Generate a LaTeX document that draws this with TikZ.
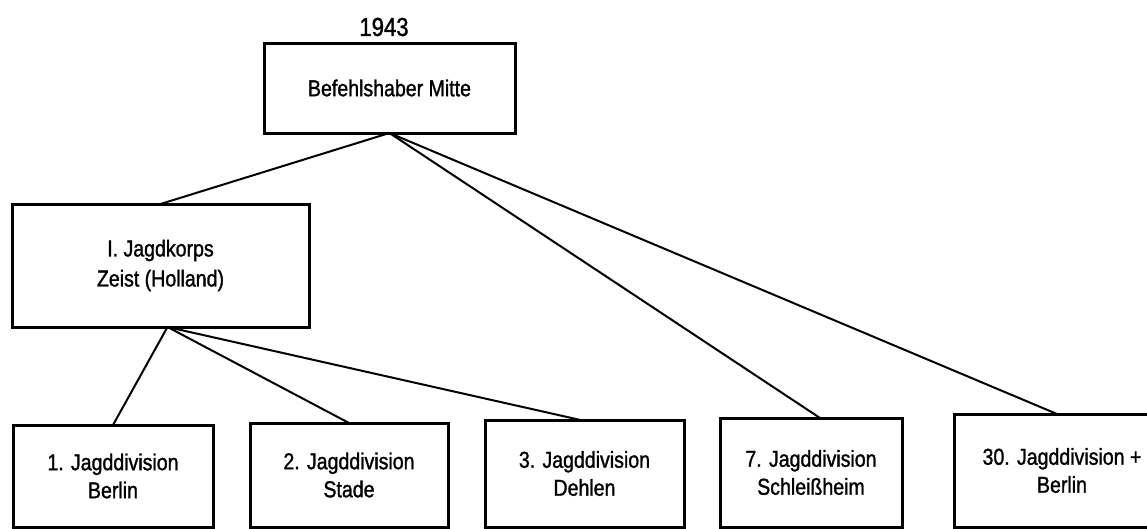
\documentclass[tikz,border=0pt]{standalone}
\usepackage{fontspec}
\setmainfont{Liberation Sans}[FakeStretch=0.85,FakeBold=1.3]

\begin{document}
\begin{tikzpicture}[x=1pt,y=-1pt,
   unit/.style={draw,line width=3pt,inner sep=0pt,outer sep=0pt,align=center,
     font=\fontsize{23}{28}\selectfont},
   link/.style={line width=2pt}]
   \useasboundingbox (0,0) rectangle (1147,528);
   \clip (0,0) rectangle (1147,528);
   \node[font=\fontsize{26}{30}\selectfont] (year) at (384,27) {1943};
   \node[unit,minimum width=251pt,minimum height=90pt] (bfh) at (389.5,88) {Befehlshaber Mitte};
   \node[unit,minimum width=297pt,minimum height=123pt] (korps) at (160.5,265.5) {I. Jagdkorps\\[2pt]Zeist (Holland)};
   \node[unit,minimum width=200pt,minimum height=102pt] (jd1) at (113,476) {1. Jagddivision\\Berlin};
   \node[unit,minimum width=198pt,minimum height=104pt] (jd2) at (349,475) {2. Jagddivision\\Stade};
   \node[unit,minimum width=199pt,minimum height=107pt] (jd3) at (584.5,473.5) {3. Jagddivision\\Dehlen};
   \node[unit,minimum width=182pt,minimum height=109pt] (jd7) at (811,472.5) {7. Jagddivision\\Schleißheim};
   \node[unit,minimum width=216pt,minimum height=113pt] (jd30) at (1062,470.5) {30. Jagddivision +\\Berlin};
   \draw[link] (bfh.south) -- (korps.north);
   \draw[link] (bfh.south) -- ([xshift=9pt]jd7.north);
   \draw[link] (bfh.south) -- ([xshift=-5pt]jd30.north);
   \draw[link] ([xshift=7pt]korps.south) -- (jd1.north);
   \draw[link] ([xshift=7pt]korps.south) -- (jd2.north);
   \draw[link] ([xshift=7pt]korps.south) -- ([xshift=-4pt]jd3.north);
\end{tikzpicture}
\end{document}
